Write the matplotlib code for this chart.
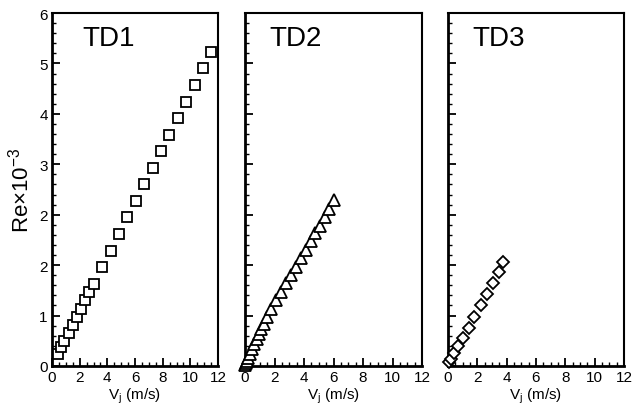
import numpy as np
import matplotlib
matplotlib.use('Agg')
import matplotlib.pyplot as plt
from matplotlib.ticker import MultipleLocator

plt.rcParams['font.family'] = ['Liberation Sans', 'DejaVu Sans']
plt.rcParams['mathtext.fontset'] = 'custom'
plt.rcParams['mathtext.rm'] = 'Liberation Sans'
plt.rcParams['mathtext.it'] = 'Liberation Sans:italic'

# data (y in axis units 0..7)
td1_v = [0.41, 0.62, 0.88, 1.20, 1.49, 1.80, 2.09, 2.37, 2.68, 3.00, 3.60, 4.24,
         4.82, 5.40, 6.04, 6.62, 7.27, 7.91, 8.49, 9.14, 9.71, 10.36, 10.94, 11.50]
td1_re = [0.23, 0.37, 0.50, 0.65, 0.81, 0.98, 1.14, 1.31, 1.47, 1.63, 1.96, 2.28,
          2.62, 2.96, 3.27, 3.61, 3.93, 4.27, 4.58, 4.92, 5.24, 5.58, 5.91, 6.23]

td2_v = [0.03, 0.07, 0.11, 0.20, 0.34, 0.47, 0.63, 0.79, 0.95, 1.11, 1.29, 1.47,
         1.78, 2.12, 2.46, 2.80, 3.14, 3.46, 3.80, 4.11, 4.45, 4.77, 5.08, 5.40,
         5.72, 6.06]
td2_re = [0.02, 0.05, 0.10, 0.16, 0.24, 0.34, 0.44, 0.54, 0.63, 0.73, 0.83, 0.97,
          1.13, 1.30, 1.47, 1.64, 1.81, 1.97, 2.14, 2.30, 2.47, 2.63, 2.78, 2.96,
          3.12, 3.29]

td3_v = [0.09, 0.20, 0.41, 0.68, 1.00, 1.41, 1.80, 2.23, 2.64, 3.05, 3.45, 3.77]
td3_re = [0.07, 0.14, 0.26, 0.39, 0.55, 0.76, 0.98, 1.20, 1.42, 1.64, 1.86, 2.07]

y_tick_pos = [0, 1, 2, 3, 4, 5, 6, 7]
y_tick_labels = ['0', '1', '2', '2', '3', '4', '5', '6']
x_ticks = [0, 2, 4, 6, 8, 10, 12]

panels = [
    ('TD1', td1_v, td1_re, 's', 6.8, [52, 218], 0.18),
    ('TD2', td2_v, td2_re, '^', 8.0, [245, 422], 0.14),
    ('TD3', td3_v, td3_re, 'D', 5.8, [448, 624], 0.14),
]

W, H = 633, 410
fig = plt.figure(figsize=(W / 100, H / 100), dpi=100)

for i, (name, v, re, mk, ms, (x0, x1), tx) in enumerate(panels):
    ax = fig.add_axes([x0 / W, 1 - 367 / H, (x1 - x0) / W, 353 / H])
    ax.plot(v, re, linestyle='none', marker=mk, markersize=ms,
            markerfacecolor='white', markeredgecolor='black',
            markeredgewidth=1.3, clip_on=False, zorder=3)
    ax.set_xlim(0, 12)
    ax.set_ylim(0, 7)
    ax.set_xticks(x_ticks)
    ax.xaxis.set_minor_locator(MultipleLocator(0.5))
    ax.set_yticks(y_tick_pos)
    ax.yaxis.set_minor_locator(MultipleLocator(0.2))
    if i == 0:
        ax.set_yticklabels(y_tick_labels)
        ax.set_ylabel(r'Re$\times$10$^{-3}$', fontsize=16, labelpad=4)
    else:
        ax.set_yticklabels([])
    ax.tick_params(which='major', direction='in', length=6, width=1.3,
                   labelsize=11, pad=3, top=False, right=False)
    ax.tick_params(which='minor', direction='in', length=3, width=1.0,
                   top=False, right=False)
    ax.set_xlabel(r'V$_{\rm j}$ (m/s)', fontsize=11, labelpad=1)
    for s in ['left', 'bottom']:
        ax.spines[s].set_linewidth(2.0)
    for s in ['top', 'right']:
        ax.spines[s].set_linewidth(1.5)
    ax.text(tx, 0.965, name, transform=ax.transAxes, fontsize=20,
            ha='left', va='top')

fig.savefig('out.png', dpi=100)
